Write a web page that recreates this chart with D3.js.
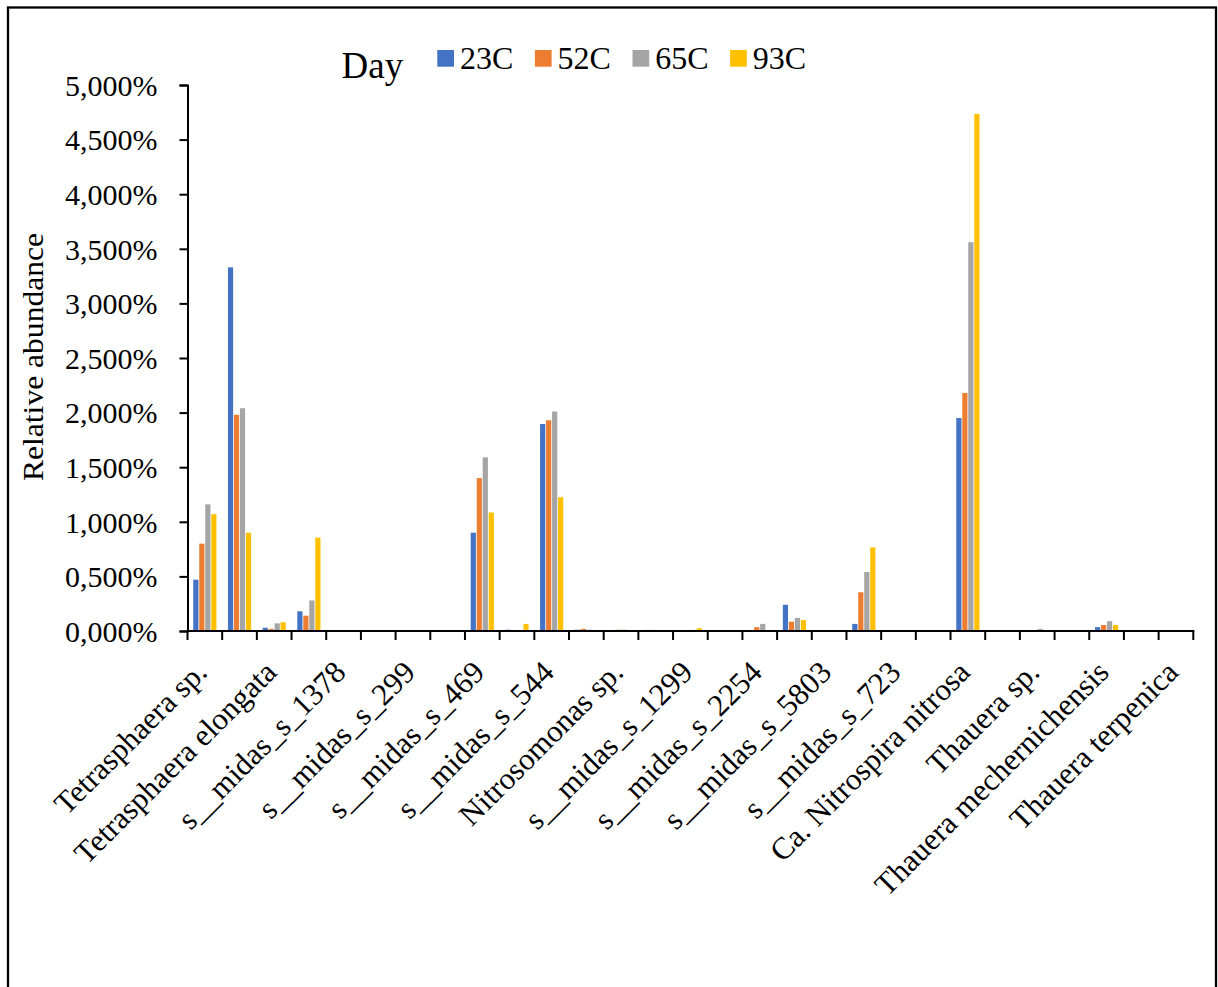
<!DOCTYPE html>
<html>
<head>
<meta charset="utf-8">
<script src="https://cdn.jsdelivr.net/npm/d3@7"></script>
<style>
  html, body { margin: 0; padding: 0; background: #fff; }
  svg { display: block; }
  text { font-family: "Liberation Serif", "Times New Roman", serif; fill: #000; }
</style>
</head>
<body>
<svg id="chart" width="1218" height="987"></svg>
<script>
// ---- data ----
const categories = [
  "Tetrasphaera sp.", "", "Tetrasphaera elongata", "", "s__midas_s_1378", "",
  "s__midas_s_299", "", "s__midas_s_469", "", "s__midas_s_544", "",
  "Nitrosomonas sp.", "", "s__midas_s_1299", "", "s__midas_s_2254", "",
  "s__midas_s_5803", "", "s__midas_s_723", "", "Ca. Nitrospira nitrosa", "",
  "Thauera sp.", "", "Thauera mechernichensis", "", "Thauera terpenica"
];
const seriesNames = ["23C", "52C", "65C", "93C"];
const values23C = [0.47, 3.33, 0.03, 0.18, 0, 0, 0, 0, 0.90, 0.012, 1.895, 0.012, 0.003, 0.010, 0.004, 0, 0, 0.24, 0.002, 0.065, 0, 0, 1.95, 0, 0, 0, 0.035, 0, 0];
const values52C = [0.80, 1.98, 0.02, 0.14, 0, 0, 0, 0, 1.40, 0.008, 1.93, 0.020, 0.012, 0.010, 0.008, 0, 0.035, 0.085, 0.002, 0.355, 0, 0, 2.18, 0, 0, 0.006, 0.055, 0, 0];
const values65C = [1.16, 2.04, 0.07, 0.28, 0, 0, 0, 0, 1.59, 0.008, 2.01, 0.012, 0.012, 0, 0.010, 0, 0.065, 0.12, 0, 0.54, 0, 0, 3.56, 0, 0.02, 0.006, 0.09, 0.005, 0];
const values93C = [1.07, 0.90, 0.08, 0.855, 0, 0, 0, 0, 1.085, 0.065, 1.225, 0.006, 0, 0, 0.025, 0, 0.010, 0.10, 0, 0.765, 0, 0, 4.735, 0.006, 0, 0, 0.055, 0, 0];
const yTicks = [0, 0.5, 1, 1.5, 2, 2.5, 3, 3.5, 4, 4.5, 5];
const legendTitle = "Day";
const yTitle = "Relative abundance";

const seriesValues = [values23C, values52C, values65C, values93C];
const colors = ["#4472C4", "#ED7D31", "#A5A5A5", "#FFC000"];

// ---- layout ----
const svg = d3.select("#chart");
const mLeft = 187.5, mRight = 1193.3, mTop = 85, mBottom = 631;

const x0 = d3.scaleBand()
  .domain(d3.range(categories.length))
  .range([mLeft, mRight])
  .paddingInner(0.308)
  .paddingOuter(0.154);
const x1 = d3.scaleBand()
  .domain(d3.range(seriesNames.length))
  .range([0, x0.bandwidth()]);
const y = d3.scaleLinear().domain([0, 5]).range([mBottom, mTop]);

const locale = d3.formatLocale({decimal: ",", thousands: ".", grouping: [3], currency: ["", ""]});
const fmt = locale.format(".3f");

// frame
svg.append("rect")
  .attr("x", 8).attr("y", 7.5).attr("width", 1208).attr("height", 1010)
  .attr("fill", "none").attr("stroke", "#000").attr("stroke-width", 2.3);

// bars
const rows = d3.range(categories.length).map(i => ({i, vals: seriesValues.map(s => s[i])}));
const groups = svg.append("g").selectAll("g").data(rows).join("g")
  .attr("transform", d => `translate(${x0(d.i)},0)`);
groups.selectAll("rect").data(d => d.vals.map((v, k) => ({v, k}))).join("rect")
  .attr("x", d => x1(d.k) + 0.4)
  .attr("width", x1.bandwidth() - 0.8)
  .attr("y", d => y(d.v))
  .attr("height", d => y(0) - y(d.v))
  .attr("fill", d => colors[d.k]);

// y axis
const yAxis = d3.axisLeft(y).tickValues(yTicks).tickSize(8).tickPadding(22)
  .tickFormat(d => fmt(d) + "%");
const yg = svg.append("g").attr("transform", `translate(${mLeft},0)`).call(yAxis);
yg.select(".domain").attr("stroke", "#000").attr("stroke-width", 2);
yg.selectAll(".tick line").attr("stroke", "#000").attr("stroke-width", 2);
yg.selectAll(".tick text")
  .attr("font-family", "'Liberation Serif', 'Times New Roman', serif")
  .attr("font-size", 30).attr("dy", "0.34em").attr("fill", "#000");

// x axis line + boundary ticks
const step = x0.step();
const boundaries = d3.range(categories.length + 1).map(i => mLeft + i * step);
svg.append("line").attr("x1", mLeft - 1).attr("x2", mRight + 1)
  .attr("y1", mBottom).attr("y2", mBottom)
  .attr("stroke", "#000").attr("stroke-width", 2);
svg.append("g").selectAll("line").data(boundaries).join("line")
  .attr("x1", d => d).attr("x2", d => d)
  .attr("y1", mBottom).attr("y2", mBottom + 9)
  .attr("stroke", "#000").attr("stroke-width", 2);

// category labels
svg.append("g").selectAll("text")
  .data(d3.range(categories.length).filter(i => categories[i] !== ""))
  .join("text")
  .attr("transform", i => `translate(${x0(i) + x0.bandwidth() / 2 + 4},${mBottom + 43}) rotate(-45)`)
  .attr("text-anchor", "end")
  .attr("font-size", 31)
  .text(i => categories[i]);

// y title
svg.append("text")
  .attr("transform", "translate(43,357) rotate(-90)")
  .attr("text-anchor", "middle")
  .attr("font-size", 30)
  .attr("textLength", 248)
  .attr("lengthAdjust", "spacingAndGlyphs")
  .text(yTitle);

// legend
svg.append("text").attr("x", 341.5).attr("y", 78.3).attr("font-size", 37).text(legendTitle);
const lg = svg.append("g").selectAll("g").data(seriesNames).join("g")
  .attr("transform", (d, k) => `translate(${437.3 + k * 97.6},0)`);
lg.append("rect").attr("x", 0).attr("y", 50).attr("width", 16.7).attr("height", 16.7)
  .attr("fill", (d, k) => colors[k]);
lg.append("text").attr("x", 22.7).attr("y", 69.3).attr("font-size", 32).text(d => d);
</script>
</body>
</html>
